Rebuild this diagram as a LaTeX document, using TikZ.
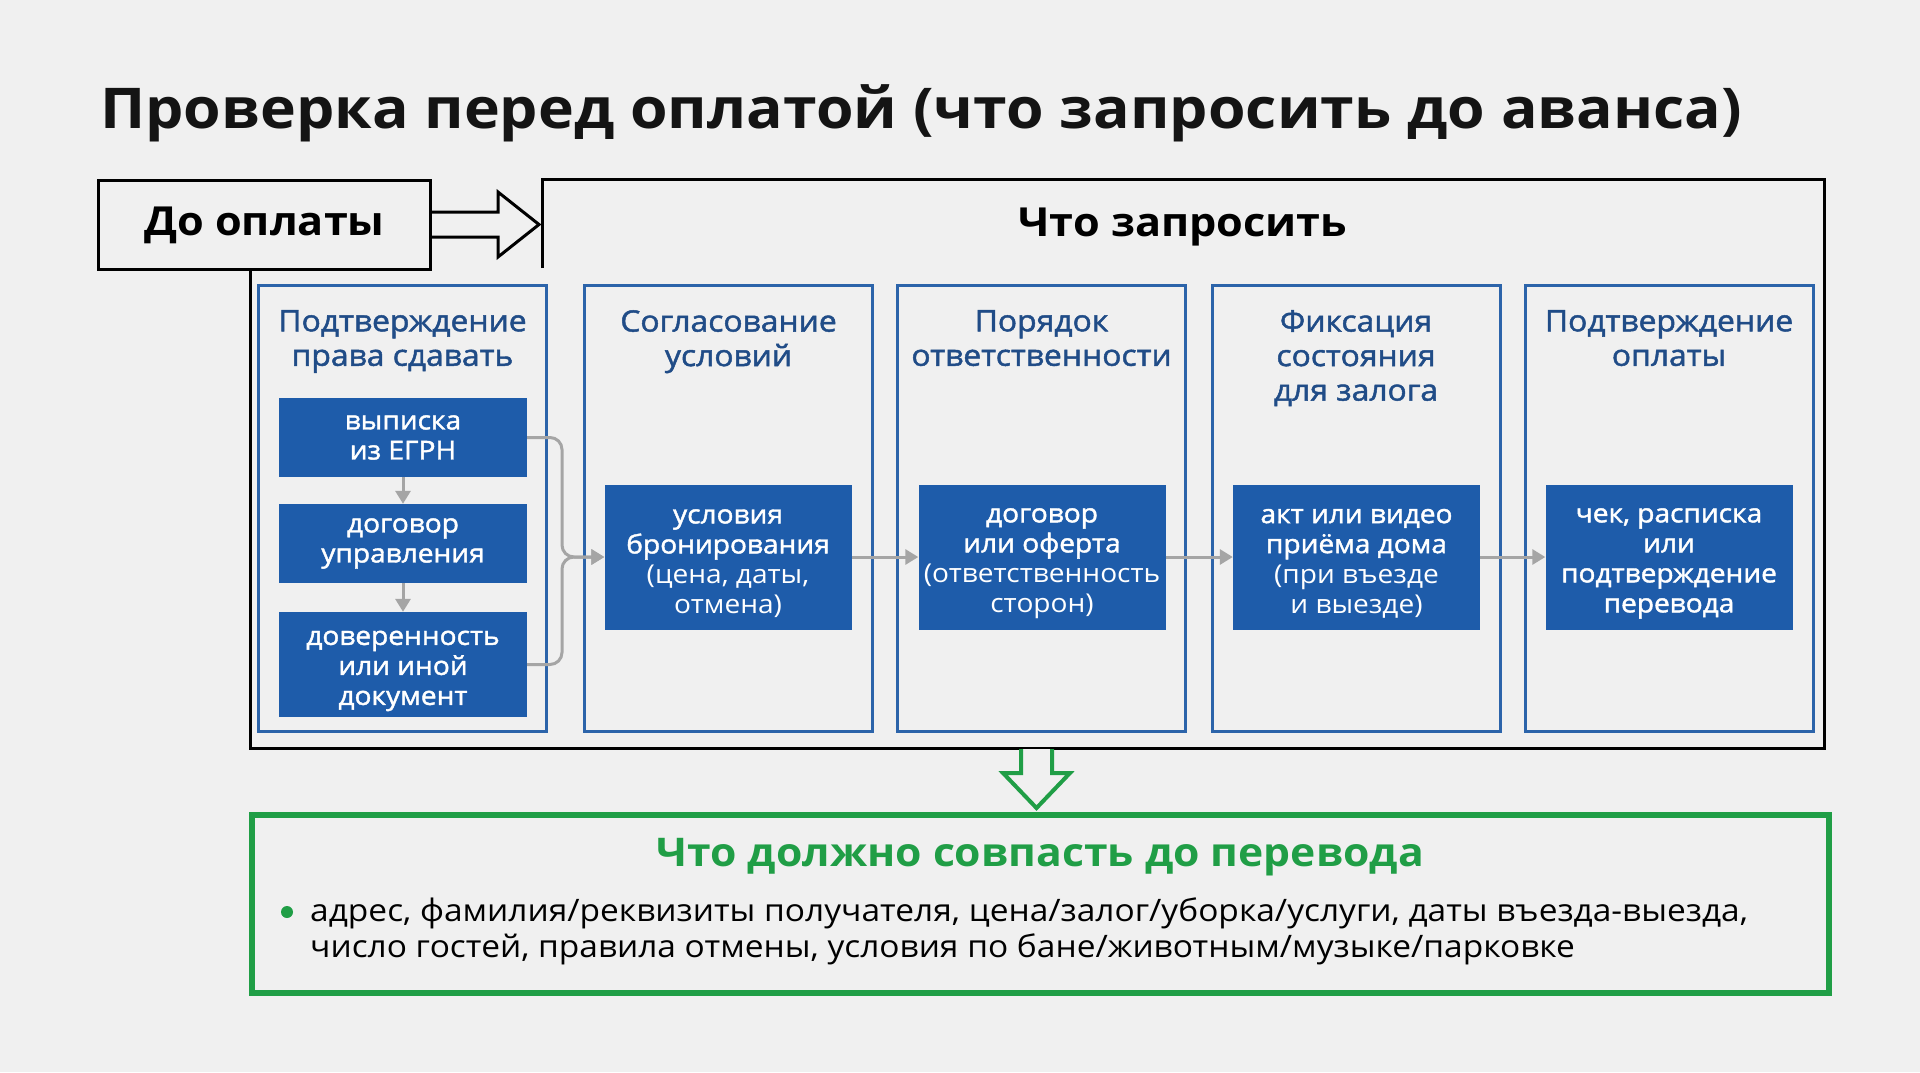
\documentclass[tikz,border=0pt]{standalone}
\usepackage{fontspec}
\setmainfont{Open Sans}[FakeStretch=1.08]
\newfontfamily\medfont{Open Sans}[FakeStretch=1.08, FakeBold=1.6]
\usetikzlibrary{arrows.meta}
\definecolor{bg}{RGB}{240,240,240}
\definecolor{colblue}{RGB}{44,100,170}
\definecolor{ttlblue}{RGB}{32,76,135}
\definecolor{boxblue}{RGB}{30,92,170}
\definecolor{grn}{RGB}{32,158,70}
\definecolor{arrgray}{RGB}{165,165,165}
\newcommand\tstrut{\rule{0pt}{27pt}}
\begin{document}
\begin{tikzpicture}[x=1pt,y=-1pt,
  col/.style={draw=colblue, line width=3, minimum width=288, minimum height=446, inner sep=0},
  ctitle/.style={text=ttlblue, align=center, font={\medfont\fontsize{29.5}{34.5}\selectfont}, inner sep=0, anchor=north},
  bbox/.style={fill=boxblue, text=white, align=center, minimum width=247, minimum height=145, inner sep=0, font={\medfont\fontsize{26}{30}\selectfont}},
  sbox/.style={bbox, minimum width=248, minimum height=79},
  garr/.style={draw=arrgray, line width=3, -{Triangle[length=13,width=15]}},
  plain/.style={inner sep=0}
]
\fill[bg] (0,0) rectangle (1920,1072);
\useasboundingbox (0,0) rectangle (1920,1072);

% title
\node[plain, anchor=west, font={\bfseries\fontsize{56.2}{62}\selectfont}, text=black!92] (title) at (100,113) {Проверка перед оплатой (что запросить до аванса)};

% "До оплаты" box
\node[draw, line width=3, fill=bg, minimum width=332, minimum height=89, anchor=north west, inner sep=0,
      font={\bfseries\fontsize{40}{44}\selectfont}] (pre) at (97,179) {До оплаты};

% outer frame
\draw[line width=3] (542,268) -- (542,179) -- (1824,179) -- (1824,748) -- (250,748) -- (250,268);
\node[plain, font={\bfseries\fontsize{40}{44}\selectfont}] (ask) at (1183,227) {Что запросить};

% hollow arrow
\draw[line width=3, fill=bg, line join=miter] (pre.east |- 0,212) -- (498,212) -- (498,192) -- (539,224.5) -- (498,257) -- (498,237) -- (pre.east |- 0,237);

% columns
\node[col] (c1) at (402.5,508) {};
\node[col] (c2) at (728.5,508) {};
\node[col] (c3) at (1041.5,508) {};
\node[col] (c4) at (1356,508) {};
\node[col] (c5) at (1669,508) {};

\node[ctitle] (t1) at (402.5,310) {Подтверждение\\права сдавать};
\node[ctitle] (t2) at (728.5,310) {Согласование\\условий};
\node[ctitle] (t3) at (1041.5,310) {Порядок\\ответственности};
\node[ctitle] (t4) at (1356,310) {Фиксация\\состояния\\для залога};
\node[ctitle] (t5) at (1669,310) {Подтверждение\\оплаты};

% column 1 boxes
\node[sbox] (e1) at (403,437.5) {выписка\\из ЕГРН};
\node[sbox] (e2) at (403,543.5) {договор\\управления};
\node[sbox, minimum height=105] (e3) at (403,664.5) {\tstrut доверенность\\или иной\\документ};

% main boxes
\node[bbox] (u2) at (728,557) {\tstrut условия\\бронирования\\{\rmfamily (цена, даты,}\\{\rmfamily отмена)}};
\node[bbox] (u3) at (1042,557) {\tstrut договор\\или оферта\\{\rmfamily (ответственность}\\{\rmfamily сторон)}};
\node[bbox] (u4) at (1356.5,557) {\tstrut акт или видео\\приёма дома\\{\rmfamily (при въезде}\\{\rmfamily и выезде)}};
\node[bbox] (u5) at (1669,557) {\tstrut чек, расписка\\или\\подтверждение\\перевода};

% connectors
\coordinate (mx) at (562,557);
\draw[garr] (e1.south) -- (e2.north);
\draw[garr] (e2.south) -- (e3.north);
\draw[garr, rounded corners=12] (e1.east) -- (e1.east -| mx) -- (mx) -- (u2.west);
\draw[garr, rounded corners=12] (e3.east) -- (e3.east -| mx) -- (mx) -- (u2.west);
\draw[garr] (u2.east) -- (u3.west);
\draw[garr] (u3.east) -- (u4.west);
\draw[garr] (u4.east) -- (u5.west);

% green arrow
\draw[grn, line width=4, fill=bg, line join=miter] (1021,749) -- (1021,773) -- (1003,773) -- (1036.5,808) -- (1070,773) -- (1052,773) -- (1052,749);

% green box
\node[draw=grn, line width=6, minimum width=1577, minimum height=178, anchor=north west, inner sep=0] (res) at (249,812) {};
\node[plain, text=grn, font={\bfseries\fontsize{39.5}{44}\selectfont}] (rt) at (1040,857) {Что должно совпасть до перевода};
\fill[grn] (287,912) circle (6);
\node[plain, anchor=west, align=left, font={\fontsize{31}{36}\selectfont}] (rb) at (310,931) {адрес, фамилия/реквизиты получателя, цена/залог/уборка/услуги, даты въезда-выезда,\\число гостей, правила отмены, условия по бане/животным/музыке/парковке};
\end{tikzpicture}
\end{document}
